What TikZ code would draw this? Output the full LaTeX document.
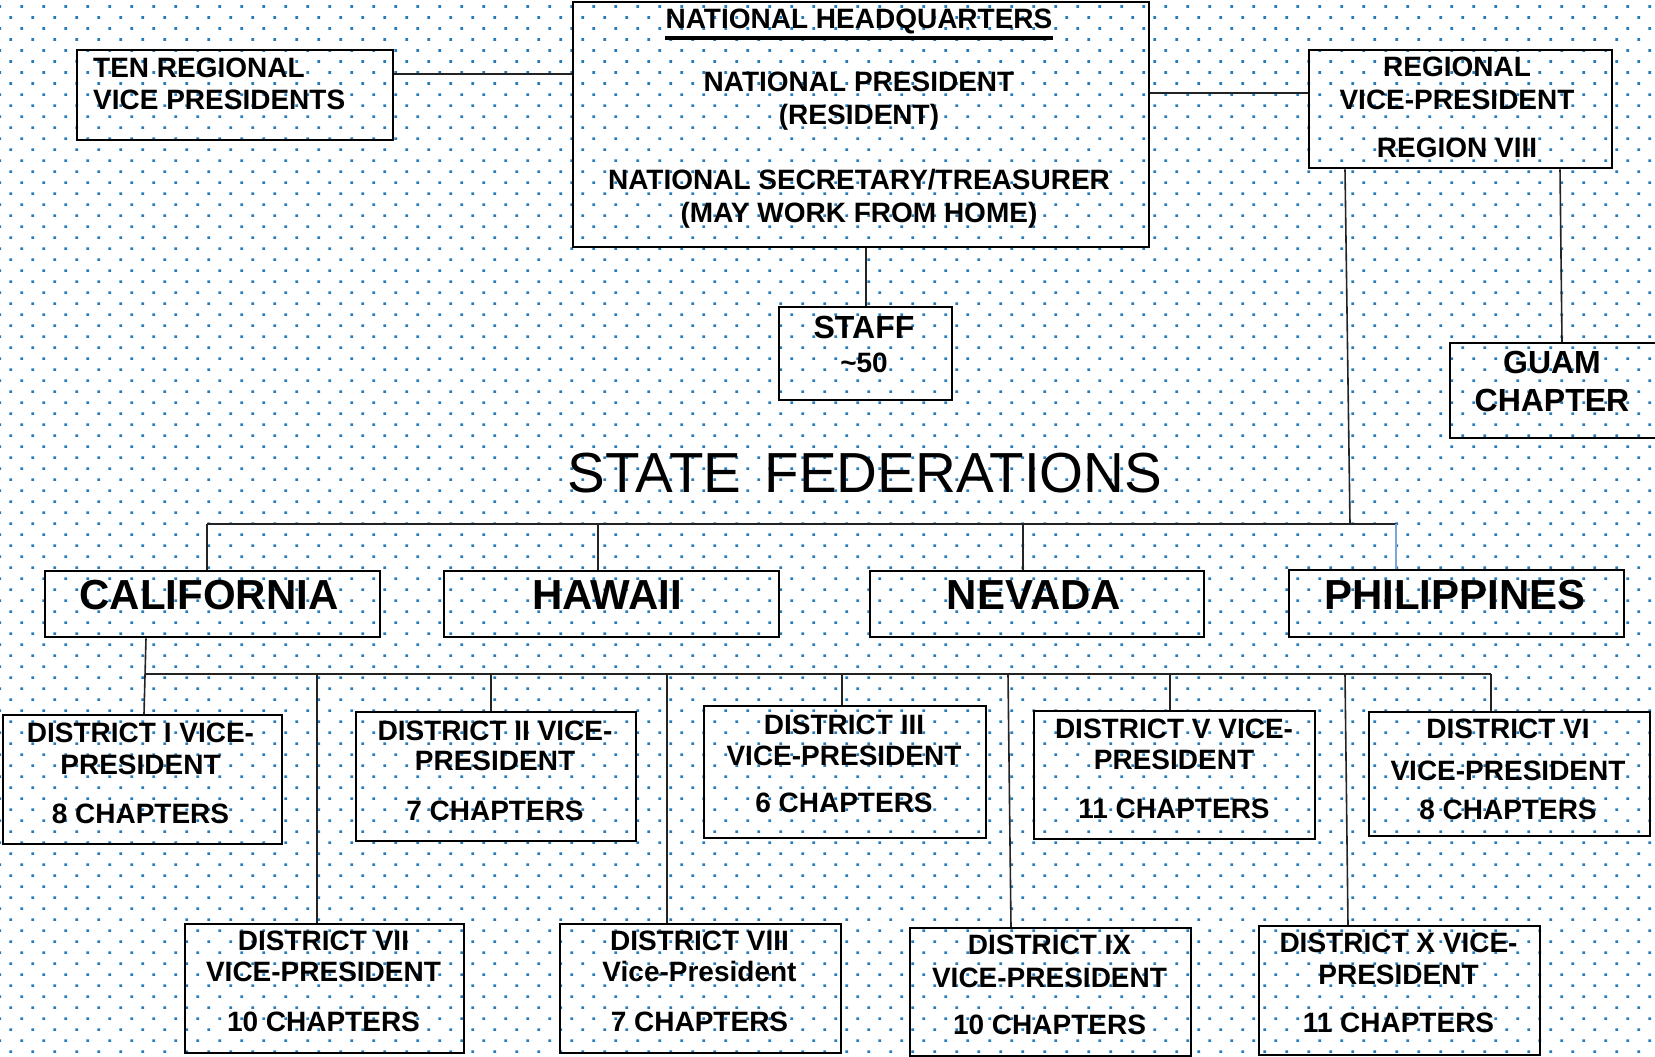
\documentclass[tikz,border=0pt]{standalone}
\usepackage{fontspec}
\setmainfont{Liberation Sans}
\definecolor{dotc}{RGB}{38,124,186}
\definecolor{linec}{RGB}{35,35,35}
\definecolor{phic}{RGB}{125,165,220}
\tikzset{
  box/.style={draw=black, line width=2.4pt, anchor=north west, inner sep=0pt},
  conn/.style={draw=linec, line width=1.6pt},
  connblue/.style={draw=phic, line width=2pt},
  tA/.style={font=\fontsize{28}{32}\selectfont\bfseries, anchor=base, inner sep=0pt},
  tB/.style={font=\fontsize{32}{36}\selectfont\bfseries, anchor=base, inner sep=0pt},
  tS/.style={font=\fontsize{42}{46}\selectfont\bfseries, anchor=base, inner sep=0pt},
  tT/.style={font=\fontsize{56.5}{60}\selectfont, anchor=base, inner sep=0pt},
}
\newcommand\bx[5]{\node[box, minimum width={(#4)-(#2)}, minimum height={(#5)-(#3)}] (#1) at (#2,#3) {};}
\newcommand\tx[5][tA]{\node[#1] (#2) at (#3,#4) {#5};}
\begin{document}
\begin{tikzpicture}[x=1pt,y=-1pt]
\useasboundingbox (0,0) rectangle (1655,1057);
\fill[white] (0,0) rectangle (1655,1057);
\clip (0,0) rectangle (1655,1057);
% dotted background
\foreach \m in {0,...,47} {
  \fill[dotc] \foreach \k in {-1,...,75} {
    (21.7+22*\k-1.35, 9.3+22*\m-1.35) rectangle +(2.7,-2.7) };
  \fill[dotc] \foreach \k in {-1,...,75} {
    (10.7+22*\k-1.35, 20.3+22*\m-1.35) rectangle +(2.7,-2.7) };
}
% boxes
\bx{ten}{76}{49}{392}{139}
\bx{hq}{572}{1}{1148}{246}
\bx{reg}{1308}{49}{1611}{167}
\bx{guam}{1449}{342}{1690}{437}
\bx{staff}{778}{306}{951}{399}
\bx{cal}{44}{570}{379}{636}
\bx{haw}{443}{570}{778}{636}
\bx{nev}{869}{570}{1203}{636}
\bx{phi}{1288}{569}{1623}{636}
\bx{d1}{1.5}{714}{281}{843}
\bx{d2}{355}{711}{635}{840}
\bx{d3}{703}{705}{985}{837}
\bx{d5}{1033}{710}{1314}{838}
\bx{d6}{1368}{711}{1649}{835}
\bx{d7}{184}{923}{463}{1052}
\bx{d8}{559}{923}{840}{1052}
\bx{d9}{909}{927}{1190}{1055}
\bx{d10}{1258}{925}{1539}{1054}
% texts
\node[tA, anchor=base west] (tena) at (93,77.5) {TEN REGIONAL};
\node[tA, anchor=base west] (tenb) at (93,109) {VICE PRESIDENTS};
\tx{hqa}{859}{29}{NATIONAL HEADQUARTERS}
\draw[line width=3.5pt] ([yshift=-9pt]hqa.base west) -- ([yshift=-9pt]hqa.base east);
\tx{hqb}{859}{92}{NATIONAL PRESIDENT}
\tx{hqc}{859}{124}{(RESIDENT)}
\tx{hqd}{859}{189.5}{NATIONAL SECRETARY/TREASURER}
\tx{hqe}{859}{222}{(MAY WORK FROM HOME)}
\tx{rega}{1457}{77}{REGIONAL}
\tx{regb}{1457}{109}{VICE-PRESIDENT}
\tx{regc}{1457}{157}{REGION VIII}
\tx[tB]{staffa}{864}{338.5}{STAFF}
\tx{staffb}{864}{372}{\textasciitilde 50}
\tx[tB]{guama}{1552}{373}{GUAM}
\tx[tB]{guamb}{1552}{411.5}{CHAPTER}
\tx[tT]{sf}{865}{492}{STATE\hspace{0.41em}FEDERATIONS}
\tx[tS]{cala}{209}{609}{CALIFORNIA}
\tx[tS]{hawa}{607}{609}{HAWAII}
\tx[tS]{neva}{1034}{609}{NEVADA}
\tx[tS]{phia}{1455}{609}{PHILIPPINES}
\tx{d1a}{140.5}{742}{DISTRICT I VICE-}
\tx{d1b}{140.5}{774}{PRESIDENT}
\tx{d1c}{140.5}{823}{8 CHAPTERS}
\tx{d2a}{495}{740}{DISTRICT II VICE-}
\tx{d2b}{495}{770}{PRESIDENT}
\tx{d2c}{495}{820}{7 CHAPTERS}
\tx{d3a}{844}{734}{DISTRICT III}
\tx{d3b}{844}{765}{VICE-PRESIDENT}
\tx{d3c}{844}{812}{6 CHAPTERS}
\tx{d5a}{1174}{738}{DISTRICT V VICE-}
\tx{d5b}{1174}{769}{PRESIDENT}
\tx{d5c}{1174}{818}{11 CHAPTERS}
\tx{d6a}{1508}{738}{DISTRICT VI}
\tx{d6b}{1508}{780}{VICE-PRESIDENT}
\tx{d6c}{1508}{819}{8 CHAPTERS}
\tx{d7a}{323.5}{950}{DISTRICT VII}
\tx{d7b}{323.5}{981}{VICE-PRESIDENT}
\tx{d7c}{323.5}{1031}{10 CHAPTERS}
\tx{d8a}{699.5}{950}{DISTRICT VIII}
\tx{d8b}{699.5}{981}{Vice-President}
\tx{d8c}{699.5}{1031}{7 CHAPTERS}
\tx{d9a}{1049.5}{954}{DISTRICT IX}
\tx{d9b}{1049.5}{987}{VICE-PRESIDENT}
\tx{d9c}{1049.5}{1034}{10 CHAPTERS}
\tx{d10a}{1398.5}{952}{DISTRICT X VICE-}
\tx{d10b}{1398.5}{984}{PRESIDENT}
\tx{d10c}{1398.5}{1032}{11 CHAPTERS}
% connectors
\coordinate (tenR) at ([yshift=-25pt]ten.north east);
\draw[conn] (tenR) -- (tenR -| hq.west);
\coordinate (hqR) at ([yshift=-92pt]hq.north east);
\draw[conn] (hqR) -- (hqR -| reg.west);
\draw[conn] (staff.north |- hq.south) -- (staff.north);
\coordinate (b1J) at (1350,524);
\draw[conn] ([xshift=37pt]reg.south west) -- (b1J);
\draw[conn] ([xshift=252pt]reg.south west) -- ([xshift=113pt]guam.north west);
\coordinate (b1L) at (207,524);
\coordinate (b1R) at (1396,524);
\coordinate (b1h) at (598,524);
\coordinate (b1n) at (1023,524);
\draw[conn] (b1L) -- (b1R);
\draw[conn] (b1L) -- (b1L |- cal.north);
\draw[conn] (b1h) -- (b1h |- haw.north);
\draw[conn] (b1n) -- (b1n |- nev.north);
\draw[connblue] (b1R) -- (b1R |- phi.north);
\draw[conn] ([xshift=102pt]cal.south west) -- ([xshift=142.5pt]d1.north west);
\coordinate (b2L) at (146,674);
\coordinate (b2R) at (1491,674);
\draw[conn] (b2L) -- (b2R);
\coordinate (b2a) at (317,674);
\coordinate (b2b) at (491,674);
\coordinate (b2c) at (667,674);
\coordinate (b2d) at (842,674);
\coordinate (b2e) at (1008,674);
\coordinate (b2f) at (1170,674);
\coordinate (b2g) at (1345,674);
\draw[conn] (b2a) -- (b2a |- d7.north);
\draw[conn] (b2b) -- (b2b |- d2.north);
\draw[conn] (b2c) -- (b2c |- d8.north);
\draw[conn] (b2d) -- (b2d |- d3.north);
\draw[conn] (b2e) -- ([xshift=102pt]d9.north west);
\draw[conn] (b2f) -- (b2f |- d5.north);
\draw[conn] (b2g) -- ([xshift=90pt]d10.north west);
\draw[conn] (b2R) -- (b2R |- d6.north);
\end{tikzpicture}
\end{document}
